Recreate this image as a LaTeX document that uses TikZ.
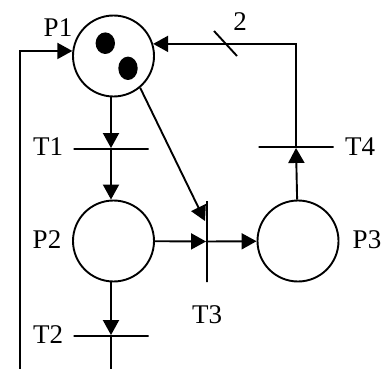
\documentclass[tikz,border=0pt]{standalone}
\usepackage{fontspec}
\setmainfont{Liberation Serif}
\usetikzlibrary{arrows.meta}
\begin{document}
\begin{tikzpicture}[x=1pt,y=-1pt,
  every node/.style={font=\fontsize{27}{30}\selectfont},
  place/.style={draw,circle,line width=1.9pt,minimum size=81pt,inner sep=0pt},
  htrans/.style={draw,rectangle,line width=1.9pt,minimum width=75pt,minimum height=0pt,inner sep=0pt},
  vtrans/.style={draw,rectangle,line width=1.9pt,minimum width=0pt,minimum height=81pt,inner sep=0pt},
  arc/.style={line width=1.9pt,-{Triangle[length=15pt,width=16pt]}},
  plain/.style={line width=1.9pt},
  lbl/.style={inner sep=0pt}]
\useasboundingbox (0,0) rectangle (386,369);
% places
\node[place] (p1) at (113.5,56) {};
\node[place] (p2) at (113.5,241) {};
\node[place] (p3) at (298,241) {};
% tokens
\fill (105.3,43.2) ellipse [x radius=9.7, y radius=10.8];
\fill (128,68.3) ellipse [x radius=9.7, y radius=11.7];
% transitions
\node[htrans] (t1) at (111,149) {};
\node[htrans] (t2) at (111,336) {};
\node[vtrans] (t3) at (207,241.5) {};
\node[htrans] (t4) at (296,147) {};
% labels
\node[lbl] (lp1) at (58,28) {P1};
\node[lbl] (lp2) at (47,240) {P2};
\node[lbl] (lp3) at (367,240) {P3};
\node[lbl] (lt1) at (48,147) {T1};
\node[lbl] (lt2) at (48,335) {T2};
\node[lbl] (lt3) at (207,315) {T3};
\node[lbl] (lt4) at (360,147) {T4};
\node[lbl] (lw) at (240,22) {2};
% coordinates
\coordinate (t3in) at (205,221);
\coordinate (bot2) at (111,369);
\coordinate (botL) at (20,369);
\coordinate (cornerL) at (20,51);
\coordinate (tickA) at (214,31);
\coordinate (tickB) at (237,56);
% arcs
\draw[arc] (p1.south -| t1) -- (t1);
\draw[arc] (t1) -- (p2.north -| t1);
\draw[arc] (p2.south -| t2) -- (t2);
\draw[plain] (t2) -- (bot2);
\draw[arc] (p2) -- (t3);
\draw[arc] (t3) -- (p3);
\draw[arc] (p1.-50) -- (t3in);
\draw[arc] (p3) -- (t4);
\draw[arc] (t4) |- (p1.17);
\draw[arc] (botL) -- (cornerL) -- (p1.173);
\draw[plain] (tickA) -- (tickB);
\end{tikzpicture}
\end{document}
